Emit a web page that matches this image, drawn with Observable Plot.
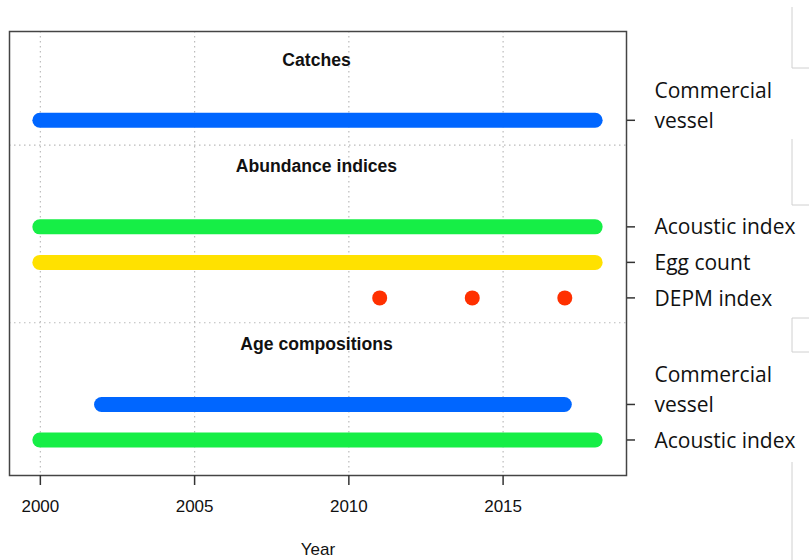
<!DOCTYPE html>
<html>
<head>
<meta charset="utf-8">
<script src="https://cdn.jsdelivr.net/npm/d3@7"></script>
<script src="https://cdn.jsdelivr.net/npm/@observablehq/plot@0.6"></script>
<style>
  html, body { margin: 0; padding: 0; background: #fff; }
</style>
</head>
<body>
<div id="chart"></div>
<script>
// Row positions and right-hand labels
const rowPositions = [1, 2, 5, 6, 7, 10];
const rowLabels = ["Acoustic index", "Commercial\nvessel", "DEPM index", "Egg count", "Acoustic index", "Commercial\nvessel"];

// Section titles
const sectionTitles = ["Catches", "Abundance indices", "Age compositions"];
const sectionTitleY = [11.7, 8.7, 3.7];
const sectionSeparators = [9.3, 4.3];

// Continuous data series (bars)
const barRow = [10, 7, 6, 2, 1];
const barStart = [2000, 2000, 2000, 2002, 2000];
const barEnd = [2018, 2018, 2018, 2017, 2018];
const barColor = ["#0066ff", "#16ee46", "#ffe100", "#0066ff", "#16ee46"];

// Discrete data (DEPM index)
const depmYears = [2011, 2014, 2017];
const depmRow = 5;

// X ticks
const xTicks = [2000, 2005, 2010, 2015];

const bars = barRow.map((r, i) => ({row: r, start: barStart[i], end: barEnd[i], color: barColor[i]}));
const dots = depmYears.map(y => ({year: y, row: depmRow}));
const titles = sectionTitles.map((t, i) => ({title: t, y: sectionTitleY[i]}));
const labelMap = new Map(rowPositions.map((p, i) => [p, rowLabels[i]]));
const singleRows = rowPositions.filter(p => !labelMap.get(p).includes("\n"));
const doubleRows = rowPositions.filter(p => labelMap.get(p).includes("\n"));

const yLabelOpts = {anchor: "right", tickSize: 0, tickPadding: 28, fontSize: 21, fontFamily: "Open Sans, sans-serif",
  textAnchor: "start", lineHeight: 1.43, tickFormat: d => labelMap.get(d), label: null};

const chart = Plot.plot({
  width: 809,
  height: 560,
  marginLeft: 9,
  marginRight: 183,
  marginTop: 31,
  marginBottom: 85,
  x: {domain: [1999, 2019]},
  y: {domain: [0, 12.5]},
  style: {background: "#fff", fontFamily: "Liberation Sans, Arial, sans-serif", color: "#111"},
  marks: [
    Plot.ruleX(xTicks, {stroke: "#bbb", strokeWidth: 1.2, strokeDasharray: "1.5,3.5"}),
    Plot.ruleY(sectionSeparators, {stroke: "#bbb", strokeWidth: 1.2, strokeDasharray: "1.5,3.5"}),
    Plot.ruleY(bars, {y: "row", x1: "start", x2: "end", stroke: "color", strokeWidth: 15, strokeLinecap: "round"}),
    Plot.dot(dots, {x: "year", y: "row", r: 7.5, fill: "#ff3000", stroke: null}),
    Plot.text(titles, {y: "y", frameAnchor: "middle", text: "title", fontWeight: "bold", fontSize: 17.6, fill: "#111", dx: -1.5}),
    Plot.frame({stroke: "#444", strokeWidth: 1.5}),
    Plot.axisX(xTicks, {tickSize: 10, tickPadding: 14, fontSize: 17, stroke: "#333", strokeWidth: 1.5, tickFormat: d => String(d),
      label: "Year", labelAnchor: "center", labelOffset: 79, labelArrow: "none"}),
    Plot.axisY(rowPositions, {anchor: "right", tickSize: 8, stroke: "#333", strokeWidth: 1.5, tickFormat: () => "", label: null}),
    Plot.axisY(singleRows, {...yLabelOpts, dy: -2}),
    Plot.axisY(doubleRows, {...yLabelOpts, dy: -17})
  ]
});

document.getElementById("chart").appendChild(chart);

// Decorative fragments of surrounding boxes at the right edge
const svg = d3.select(chart);
const deco = [
  "M792,7 V68 H809",
  "M792,139 V205 H809",
  "M809,318 H792 V352 H809",
  "M792,462 V560"
];
svg.append("g").selectAll("path").data(deco).join("path")
  .attr("d", d => d).attr("fill", "none").attr("stroke", "#d0d0d0").attr("stroke-width", 1);
</script>
</body>
</html>
